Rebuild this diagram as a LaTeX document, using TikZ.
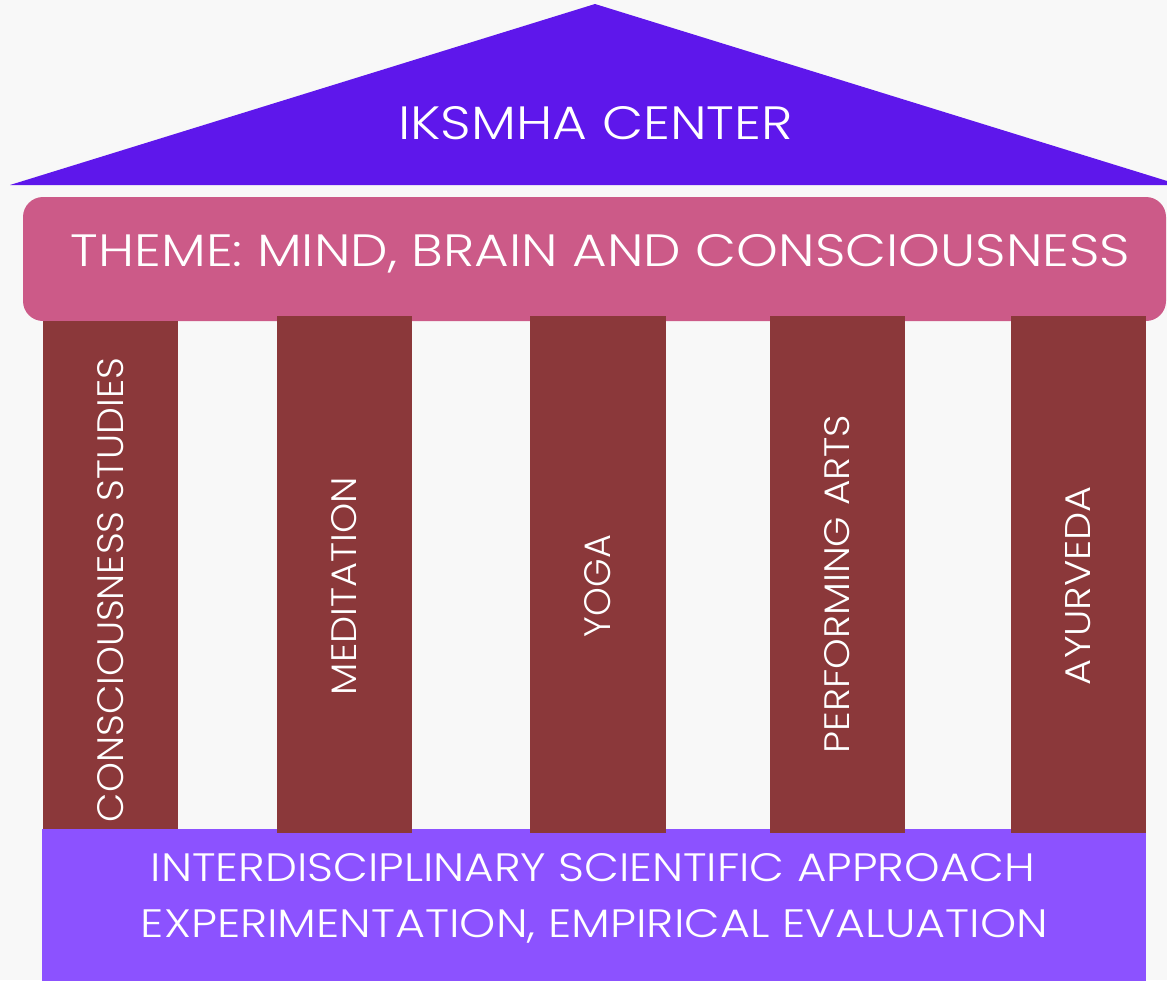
\documentclass[tikz,border=0pt]{standalone}
\usepackage{fontspec}
\setmainfont{Poppins Light}
\usepackage{graphicx}
\definecolor{bg}{HTML}{F8F8F8}
\definecolor{roofc}{HTML}{5E17EB}
\definecolor{bandc}{HTML}{CC5A88}
\definecolor{pillarc}{HTML}{8B383A}
\definecolor{basec}{HTML}{8C52FF}
\tikzset{
  lbl/.style={text=white, inner sep=0pt, outer sep=0pt, anchor=base},
  vlbl/.style={lbl, rotate=90},
  pillar/.style={fill=pillarc},
}
\newcommand{\fitt}[3]{\resizebox{#1pt}{#2pt}{#3}}
\begin{document}
\begin{tikzpicture}[x=1pt,y=-1pt]
\useasboundingbox (0,0) rectangle (1167,980);
\clip (0,0) rectangle (1167,980);
\fill[bg] (0,0) rectangle (1167,980);
% roof
\fill[roofc] (595,4) -- (1180,185) -- (10,185) -- cycle;
% theme band
\fill[bandc, rounded corners=20pt] (23,197) rectangle (1166,321);
% base
\fill[basec] (42,829) rectangle (1146,985);
% pillars
\fill[pillar] (43,321) rectangle (178,829);
\fill[pillar] (277,316) rectangle (412,833);
\fill[pillar] (530,316) rectangle (666,833);
\fill[pillar] (770,316) rectangle (905,833);
\fill[pillar] (1011,316) rectangle (1146,833);
% texts
\node[lbl] (roof) at (595.5,139) {\fitt{394}{33}{IKSMHA CENTER}};
\node[lbl] (theme) at (600.5,266) {\fitt{1059}{32}{THEME: MIND, BRAIN AND CONSCIOUSNESS}};
\node[vlbl] (p1) at (123,590) {\fitt{464}{26}{CONSCIOUSNESS STUDIES}};
\node[vlbl] (p2) at (356,586) {\fitt{218}{25}{MEDITATION}};
\node[vlbl] (p3) at (610.5,586) {\fitt{102}{26}{YOGA}};
\node[vlbl] (p4) at (849,584) {\fitt{338}{25}{PERFORMING ARTS}};
\node[vlbl] (p5) at (1090.5,585.5) {\fitt{199}{25}{AYURVEDA}};
\node[lbl] (b1) at (593,881) {\fitt{884}{28}{INTERDISCIPLINARY SCIENTIFIC APPROACH}};
\node[lbl] (b2) at (594.5,937) {\fitt{907}{28}{EXPERIMENTATION, EMPIRICAL EVALUATION}};
\end{tikzpicture}
\end{document}
